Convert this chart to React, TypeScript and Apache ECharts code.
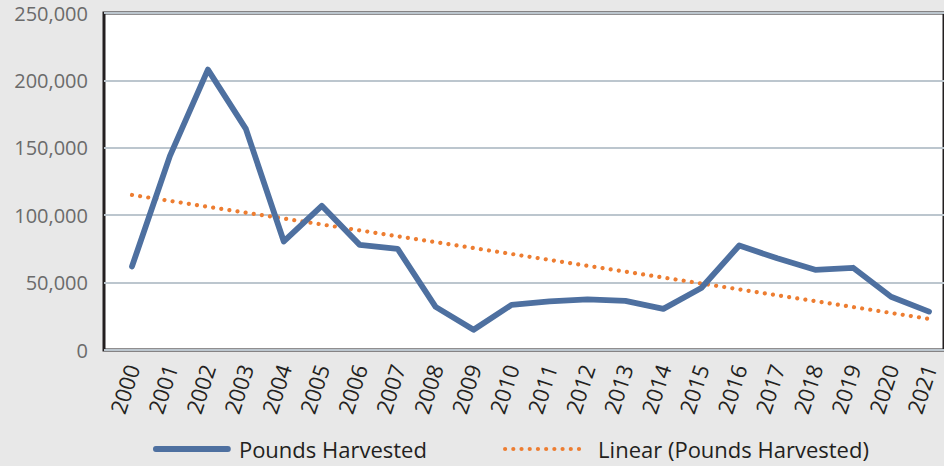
import React, { useEffect, useRef } from "react";
import * as echarts from "echarts";

const years = ["2000","2001","2002","2003","2004","2005","2006","2007","2008","2009","2010","2011","2012","2013","2014","2015","2016","2017","2018","2019","2020","2021"];
const poundsHarvested = [62000,144000,208000,164000,80500,107000,78000,75000,32000,15000,33500,36000,37500,36500,30500,46000,77500,68000,59500,61000,39500,28500];
const trendYears = ["2000","2021"];
const trendValues = [115000,23100];
const yTicks = { min: 0, max: 250000, interval: 50000 };

const FONT = "'Open Sans', 'Noto Sans', sans-serif";

export default function App() {
  const ref = useRef<HTMLDivElement>(null);
  useEffect(() => {
    document.body.style.margin = "0";
    const chart = echarts.init(ref.current!, null, { renderer: "svg" });
    const legendText = { fontSize: 22, lineHeight: 24, color: "#231f20", fontFamily: FONT, padding: [0, 0, 0, 6] };
    chart.setOption({
      animation: false,
      backgroundColor: "#e8e8e8",
      textStyle: { fontFamily: FONT },
      grid: [
        { left: 132, right: 15, top: 13, bottom: 116 },
        { left: 104, right: -10, top: 13, bottom: 116, show: true, backgroundColor: "#ffffff", borderColor: "#231f20", borderWidth: 3 },
      ],
      xAxis: [
        {
          type: "category", gridIndex: 0, data: years, boundaryGap: false,
          axisLine: { show: false }, axisTick: { show: false },
          axisLabel: { rotate: 72, fontSize: 22, color: "#231f20", margin: 15, fontFamily: FONT, interval: 0 },
        },
        { type: "value", gridIndex: 1, show: false, min: 0, max: 1 },
      ],
      yAxis: [
        { type: "value", gridIndex: 0, min: yTicks.min, max: yTicks.max, interval: yTicks.interval, show: false, splitLine: { show: false } },
        {
          type: "value", gridIndex: 1, min: yTicks.min, max: yTicks.max, interval: yTicks.interval,
          axisLine: { show: false }, axisTick: { show: false },
          axisLabel: { fontSize: 20, color: "#6b6b6b", margin: 16, fontFamily: FONT, formatter: (v: number) => v.toLocaleString("en-US") },
          splitLine: { lineStyle: { color: "#bcc6ce", width: 2 } },
        },
      ],
      legend: [
        {
          data: ["Pounds Harvested"], left: 153, top: 437, padding: 0, itemWidth: 72, itemHeight: 8,
          itemStyle: { opacity: 0 }, lineStyle: { width: "inherit" }, textStyle: legendText,
        },
        {
          data: ["Linear (Pounds Harvested)"], left: 503, top: 437, padding: 0, itemWidth: 82, itemHeight: 8,
          itemStyle: { opacity: 0 }, lineStyle: { width: "inherit" }, textStyle: legendText,
        },
      ],
      series: [
        {
          name: "Pounds Harvested", type: "line", xAxisIndex: 0, yAxisIndex: 0,
          data: poundsHarvested, symbol: "none", z: 3,
          lineStyle: { color: "#4e70a0", width: 5.8, join: "round", cap: "round" },
          itemStyle: { color: "#4e70a0" },
        },
        {
          name: "Linear (Pounds Harvested)", type: "line", xAxisIndex: 0, yAxisIndex: 0,
          data: trendYears.map((y, i) => [y, trendValues[i]]), symbol: "none", z: 2,
          lineStyle: { color: "#ed7d31", width: 4.2, type: [0.01, 8.2], cap: "round" },
          itemStyle: { color: "#ed7d31" },
        },
      ],
    });
    return () => chart.dispose();
  }, []);
  return <div ref={ref} style={{ width: 944, height: 466, position: "absolute", left: 0, top: 0 }} />;
}
